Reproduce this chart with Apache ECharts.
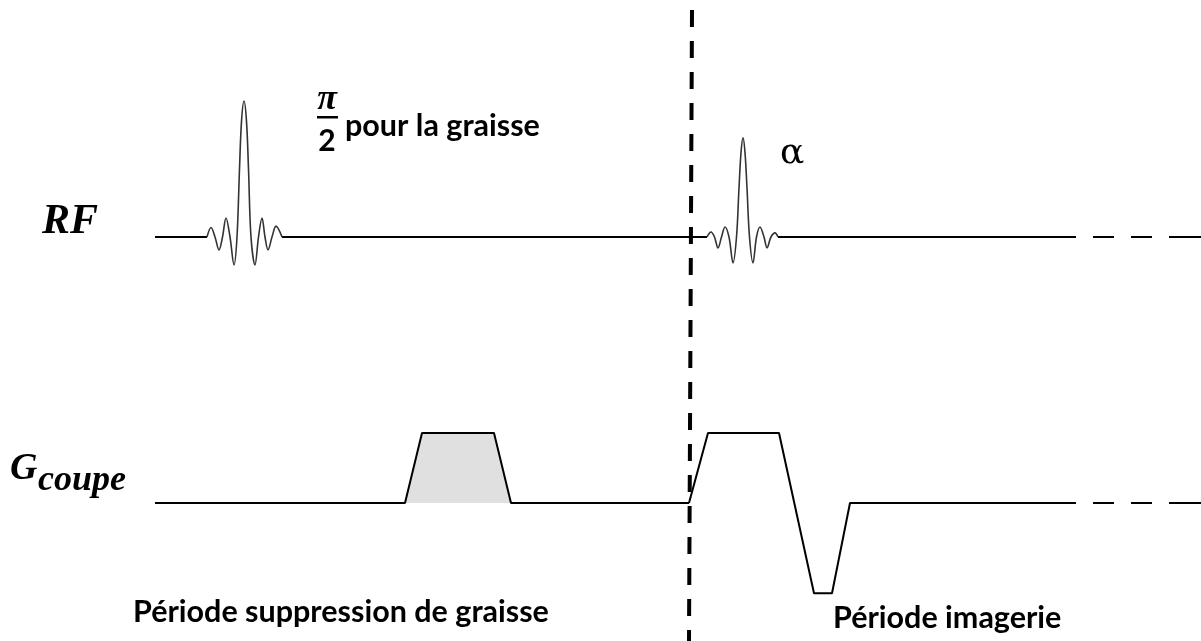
<!DOCTYPE html>
<html>
<head>
<meta charset="utf-8">
<title>Séquence avec suppression de graisse</title>
<script src="https://cdn.jsdelivr.net/npm/echarts@6.0.0/dist/echarts.min.js"></script>
<style>
  html, body { margin: 0; padding: 0; background: #fff; }
  #chart { width: 1201px; height: 641px; }
</style>
</head>
<body>
<div id="chart"></div>
<script>
// temps en unités arbitraires (0 -> 1201), amplitudes normalisées
// RF : 1 = pic de l'impulsion pi/2 graisse
const rfBaseline = [[155, 0], [207, 0], [244, '-'], [282, 0], [707, 0], [743, '-'], [778, 0], [1076, 0]];
const rfFatPulse = [
  [207, 0], [211, 0.07], [215, 0], [219, -0.095], [222.5, 0], [226, 0.14], [230, 0],
  [234, -0.205], [237, 0], [239.5, 0.5], [241.5, 0.85], [244, 1], [246.5, 0.85], [248.5, 0.5],
  [251, 0], [255, -0.205], [258.5, 0], [262, 0.14], [265, 0], [268, -0.095], [272, 0],
  [276, 0.08], [282, 0]
];
const rfAlphaPulse = [
  [707, 0], [711, 0.037], [714.5, 0], [718, -0.08], [721.5, 0], [725, 0.074], [729, 0],
  [733, -0.19], [736.5, 0], [739, 0.36], [741, 0.62], [743, 0.73], [745, 0.62], [747, 0.36],
  [749.5, 0], [753, -0.19], [756.5, 0], [760, 0.074], [764, 0], [767, -0.08], [771, 0],
  [775, 0.03], [778, 0]
];
// suite pointillée de la séquence
const tailDashes = [[1093, 0], [1114, 0], [1122, '-'], [1131, 0], [1152, 0], [1160, '-'], [1169, 0], [1201, 0]];

// G coupe : 1 = plateau du gradient
const gFatSat = [[155, 0], [405, 0], [422, 1], [494, 1], [511, 0], [689, 0]];
const gImaging = [[689, 0], [708, 1], [779, 1], [814, -1.29], [832, -1.29], [850, 0], [1076, 0]];

// séparation des deux périodes
const divider = [[692, 1], [689, 0]];

const chart = echarts.init(document.getElementById('chart'), null, { renderer: 'canvas' });

const line = (gridIdx, data, extra) => Object.assign({
  type: 'line',
  xAxisIndex: gridIdx,
  yAxisIndex: gridIdx,
  data: data,
  symbol: 'none',
  silent: true,
  lineStyle: { color: '#000', width: 2 }
}, extra);

const xAxes = [0, 1, 2].map(i => ({ gridIndex: i, type: 'value', min: 0, max: 1201, show: false }));

const text = (x, y, str, font, extra) => ({
  type: 'text',
  x: x,
  y: y,
  silent: true,
  style: Object.assign({
    text: str,
    fill: '#000',
    verticalAlign: 'middle',
    fontFamily: font.family,
    fontSize: font.size,
    fontWeight: font.weight || 'normal',
    fontStyle: font.style || 'normal'
  }, extra || {})
});

const serifBI = size => ({ family: '"Liberation Serif", serif', size: size, weight: 'bold', style: 'italic' });
const sansB = size => ({ family: 'Lato, sans-serif', size: size, weight: 'bold' });

chart.setOption({
  animation: false,
  backgroundColor: '#fff',
  grid: [
    { left: 0, right: 0, top: 101, height: 272 },
    { left: 0, right: 0, top: 398, height: 210 },
    { left: 0, right: 0, top: 10, bottom: 0 }
  ],
  xAxis: xAxes,
  yAxis: [
    { gridIndex: 0, type: 'value', min: -1, max: 1, show: false },
    { gridIndex: 1, type: 'value', min: -1.5, max: 1.5, show: false },
    { gridIndex: 2, type: 'value', min: 0, max: 1, show: false }
  ],
  series: [
    line(0, rfBaseline),
    line(0, rfFatPulse, { smooth: 0.35, lineStyle: { color: '#333', width: 1.6 } }),
    line(0, rfAlphaPulse, { smooth: 0.35, lineStyle: { color: '#333', width: 1.6 } }),
    line(0, tailDashes),
    line(1, gFatSat, { areaStyle: { color: '#e0e0e0', opacity: 1 } }),
    line(1, gImaging),
    line(1, tailDashes),
    line(2, divider, { z: 5, lineStyle: { color: '#000', width: 4, type: [17, 14] } })
  ],
  graphic: [
    text(42, 222, 'RF', serifBI(42)),
    text(10, 469, 'G', serifBI(38)),
    text(38, 481, 'coupe', serifBI(36)),
    text(327, 100, 'π', serifBI(36), { align: 'center' }),
    { type: 'rect', silent: true, shape: { x: 317, y: 116, width: 21, height: 2.5 }, style: { fill: '#000' } },
    text(327, 141, '2', sansB(30), { align: 'center' }),
    text(345, 126, 'pour la graisse', sansB(30.5)),
    text(780, 154, 'α', { family: '"DejaVu Serif", serif', size: 36 }),
    text(133, 612, 'Période suppression de graisse', sansB(30.5)),
    text(833, 618, 'Période imagerie', sansB(30.5))
  ]
});
</script>
</body>
</html>
